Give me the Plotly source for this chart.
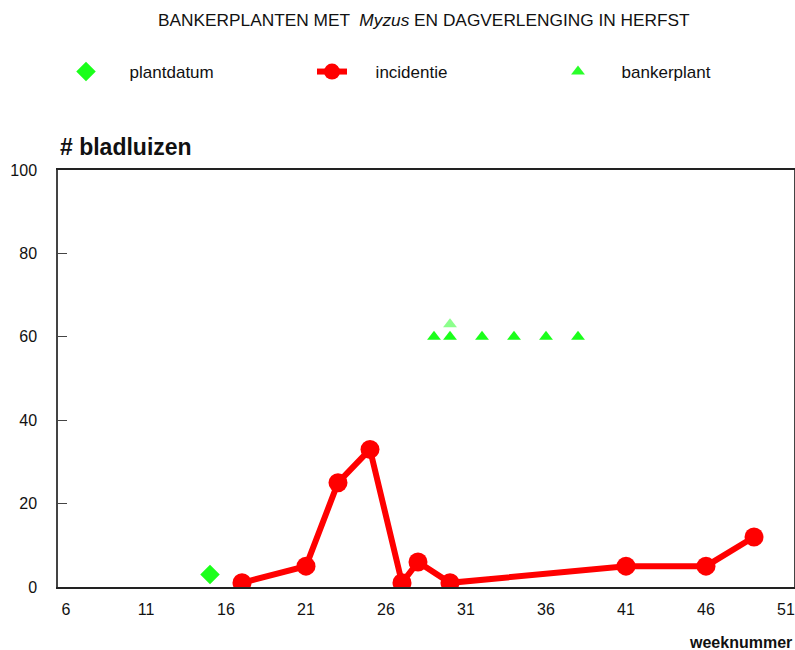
import plotly.graph_objects as go

# Data
plant_week = [15]
plant_val = [3]

inc_week = [17, 21, 23, 25, 27, 28, 30, 41, 46, 49]
inc_val = [1, 5, 25, 33, 1, 6, 1, 5, 5, 12]

bank_week = [29, 30, 30, 32, 34, 36, 38]
bank_val = [60, 60, 63, 60, 60, 60, 60]
bank_opacity = [1, 1, 0.5, 1, 1, 1, 1]

x_ticks = [6, 11, 16, 21, 26, 31, 36, 41, 46, 51]
y_ticks = [0, 20, 40, 60, 80, 100]

GREEN = "#1aff1a"
RED = "#ff0000"
FONT = "Liberation Sans, Arial, sans-serif"
PAD = "\u00a0" * 5

fig = go.Figure()
fig.add_trace(go.Scatter(
    x=plant_week, y=plant_val, mode="markers", name=PAD + "plantdatum",
    marker=dict(symbol="diamond", size=15, color=GREEN),
))
fig.add_trace(go.Scatter(
    x=inc_week, y=inc_val, mode="lines+markers", name=PAD + "incidentie",
    line=dict(color=RED, width=6),
    marker=dict(symbol="circle", size=19, color=RED),
))
fig.add_trace(go.Scatter(
    x=bank_week, y=bank_val, mode="markers", name=PAD + "bankerplant",
    marker=dict(symbol="triangle-up", size=12, color=GREEN, opacity=bank_opacity),
))

H_PLOT = 417
W_PLOT = 736
fig.update_layout(
    width=795, height=650,
    margin=dict(l=58, r=1, t=170, b=63, autoexpand=False),
    paper_bgcolor="white", plot_bgcolor="white",
    font=dict(family=FONT, size=16, color="#111"),
    showlegend=True,
    legend=dict(
        orientation="h", x=8 / W_PLOT, xanchor="left",
        y=(587 - 72) / H_PLOT, yanchor="middle",
        entrywidth=201, entrywidthmode="pixels",
        font=dict(size=17, family=FONT), itemsizing="trace",
    ),
    xaxis=dict(
        range=[5.5, 51.5], tickvals=x_ticks, ticks="", showgrid=False,
        zeroline=False, showline=True, linecolor="#222", linewidth=1.5, mirror=True,
        ticklabelstandoff=7, tickfont=dict(size=16), automargin=False,
    ),
    yaxis=dict(
        range=[0, 100], tickvals=y_ticks, ticks="inside", ticklen=9,
        tickcolor="#444", showgrid=False, zeroline=False, showline=True,
        linecolor="#444", linewidth=1.5, mirror=True, ticklabelstandoff=16,
        tickfont=dict(size=16), automargin=False,
    ),
    annotations=[
        dict(text="BANKERPLANTEN MET  <i>Myzus</i> EN DAGVERLENGING IN HERFST",
             xref="paper", yref="paper", x=(424 - 58) / W_PLOT,
             y=(587 - 20) / H_PLOT,
             xanchor="center", yanchor="middle", showarrow=False,
             font=dict(size=17.3, family=FONT, color="#111")),
        dict(text="<b># bladluizen</b>", xref="paper", yref="paper",
             x=0, y=(587 - 147) / H_PLOT, xanchor="left", yanchor="middle",
             showarrow=False, font=dict(size=23, family=FONT, color="#111")),
        dict(text="<b>weeknummer</b>", xref="paper", yref="paper",
             x=1, y=-(642 - 587) / H_PLOT, xanchor="right", yanchor="middle",
             showarrow=False, font=dict(size=16, family=FONT, color="#111")),
    ],
)

fig.write_html("out.html",
               config={"displayModeBar": False},
               post_script="document.body.style.margin='0';"
                           "document.body.style.overflow='hidden';")
